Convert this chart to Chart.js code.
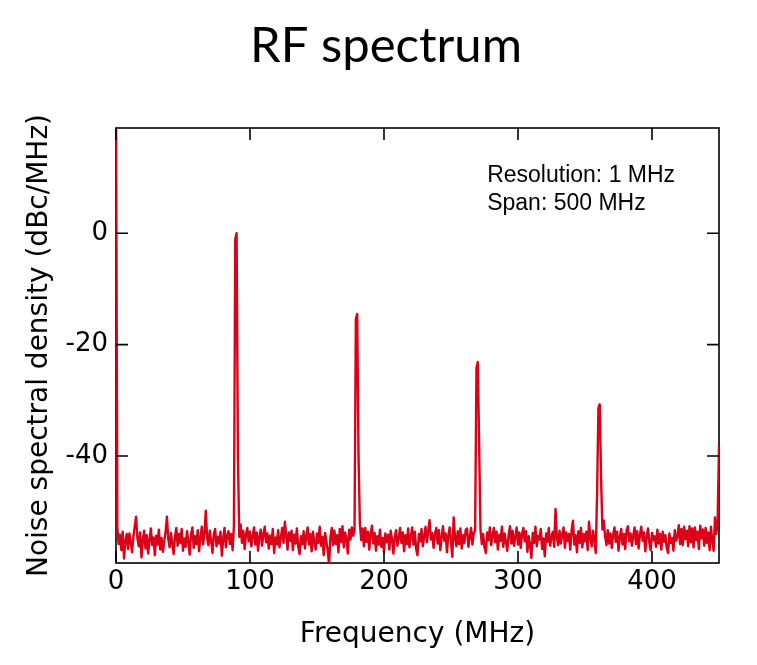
<!DOCTYPE html>
<html>
<head>
<meta charset="utf-8">
<script src="https://cdn.jsdelivr.net/npm/chart.js@4/dist/chart.umd.min.js"></script>
<style>
  html, body { margin: 0; padding: 0; background: #ffffff; }
  #c { display: block; }
</style>
</head>
<body>
<canvas id="c" width="757" height="665"></canvas>
<script>
// ---- data ----
const chartTitle = 'RF spectrum';
const xTitle = 'Frequency (MHz)';
const yTitle = 'Noise spectral density (dBc/MHz)';
const annotationLines = ['Resolution: 1 MHz', 'Span: 500 MHz'];

const freqStart = 0;      // MHz
const freqStep = 1;       // MHz (resolution)
const xTickValues = [0, 100, 200, 300, 400];
const yTickValues = [-40, -20, 0];

const psd = [
  25.0, -53.0, -55.8, -54.1, -56.9, -53.6, -58.4, -55.2, -54.0, -56.7,
  -53.9, -55.5, -57.3, -54.4, -52.6, -50.9, -54.8, -56.2, -53.7, -58.2,
  -55.0, -53.4, -56.6, -54.2, -57.5, -55.1, -53.0, -56.0, -54.6, -57.8,
  -54.3, -55.9, -53.2, -56.8, -54.7, -57.2, -55.3, -53.6, -50.9, -54.9,
  -56.4, -53.8, -55.7, -57.6, -54.5, -52.9, -56.1, -54.0, -55.6, -53.1,
  -57.0, -54.8, -56.3, -53.5, -55.4, -57.7, -54.1, -52.8, -56.5, -54.4,
  -55.8, -53.3, -57.1, -54.6, -52.7, -55.9, -53.9, -49.8, -54.7, -56.0,
  -53.4, -55.2, -57.4, -54.0, -53.1, -56.2, -54.5, -55.7, -53.6, -57.9,
  -54.8, -52.9, -56.4, -54.2, -53.5, -55.8, -54.0, -56.9, -52.6, -1.0,
  0.0, -40.0, -54.5, -52.3, -55.6, -53.4, -56.7, -54.1, -52.9, -55.3,
  -53.6, -56.2, -54.4, -52.8, -55.9, -53.7, -57.0, -54.5, -53.2, -56.1,
  -54.0, -52.7, -55.5, -53.9, -56.6, -54.3, -55.8, -53.1, -57.4, -54.6,
  -55.9, -53.3, -56.4, -54.8, -52.9, -55.6, -51.8, -54.2, -56.8, -53.7,
  -55.2, -53.4, -56.9, -54.1, -55.7, -53.0, -56.3, -57.6, -54.4, -55.8,
  -53.5, -56.6, -54.3, -52.8, -55.9, -54.0, -57.1, -53.6, -55.4, -56.8,
  -53.9, -55.6, -52.7, -56.1, -54.5, -57.8, -53.8, -55.3, -56.9, -59.6,
  -54.7, -52.9, -56.0, -53.4, -55.8, -54.2, -57.3, -53.1, -55.5, -52.6,
  -56.4, -53.7, -54.9, -57.5, -53.2, -55.0, -52.8, -54.3, -53.4, -15.4,
  -14.5, -40.0, -52.2, -55.1, -53.0, -56.2, -52.9, -55.4, -53.6, -56.8,
  -54.0, -52.5, -55.7, -53.8, -57.0, -54.4, -55.9, -53.2, -56.3, -54.7,
  -57.2, -53.9, -55.5, -54.1, -56.8, -53.4, -55.0, -57.5, -54.6, -53.3,
  -56.1, -54.8, -52.9, -55.6, -53.7, -57.1, -54.2, -55.8, -53.0, -56.4,
  -54.5, -52.8, -55.9, -53.6, -56.7, -57.8, -54.0, -55.3, -53.1, -56.2,
  -54.4, -52.7, -55.5, -53.5, -51.5, -55.0, -53.8, -56.5, -54.1, -52.9,
  -55.7, -53.3, -56.9, -54.6, -52.6, -55.2, -53.9, -57.3, -54.3, -52.8,
  -55.4, -58.1, -51.0, -54.7, -56.2, -53.5, -55.8, -53.0, -56.6, -54.2,
  -55.6, -53.2, -53.0, -56.3, -54.5, -52.9, -55.9, -53.8, -53.4, -24.2,
  -23.1, -38.0, -53.2, -55.8, -54.0, -56.4, -57.4, -53.7, -55.1, -52.8,
  -56.0, -54.3, -52.9, -55.5, -53.6, -56.8, -54.1, -55.2, -52.7, -56.3,
  -53.9, -55.4, -57.0, -54.2, -52.6, -55.7, -53.4, -56.1, -54.6, -52.8,
  -55.9, -53.7, -56.5, -54.0, -52.9, -55.3, -53.5, -57.2, -54.4, -56.0,
  -58.3, -53.8, -55.6, -52.7, -56.2, -54.3, -55.0, -53.1, -56.7, -54.8,
  -58.0, -53.9, -55.4, -52.9, -56.1, -54.5, -53.6, -56.3, -49.5, -54.7,
  -56.0, -53.4, -55.7, -54.1, -52.8, -56.5, -53.7, -55.2, -54.0, -56.8,
  -53.3, -51.6, -55.9, -54.2, -57.3, -53.5, -55.6, -52.9, -56.4, -54.0,
  -55.3, -53.6, -56.9, -51.8, -54.7, -56.2, -53.4, -55.1, -57.4, -47.0,
  -31.4, -30.7, -44.0, -53.2, -51.6, -54.4, -56.0, -53.3, -55.7, -53.9,
  -56.5, -54.2, -52.8, -55.4, -53.6, -57.0, -54.5, -53.1, -55.9, -54.0,
  -56.7, -53.4, -52.6, -55.3, -53.9, -56.1, -54.3, -52.8, -55.8, -53.5,
  -56.6, -54.1, -52.7, -55.2, -53.7, -57.1, -54.6, -53.0, -55.5, -56.9,
  -53.8, -55.1, -54.4, -56.3, -53.2, -55.7, -54.0, -56.8, -53.6, -55.4,
  -54.2, -56.5, -57.4, -53.9, -55.6, -54.7, -57.0, -53.3, -55.2, -54.5,
  -52.4, -55.8, -53.1, -56.0, -52.7, -54.9, -53.4, -56.2, -52.6, -55.5,
  -53.0, -56.4, -52.8, -55.1, -53.6, -56.7, -52.5, -54.8, -53.2, -56.1,
  -52.9, -55.6, -53.7, -56.9, -52.7, -55.3, -57.0, -51.0, -54.0, -51.4,
  -38.3
];

const xMin = 0, xMax = 450;
const yMin = -59.2, yMax = 18.9;
const annotationPos = { x: 277, y: 9.2 };   // data coords of first annotation baseline

// ---- build points ----
const points = psd.map((v, i) => ({ x: freqStart + i * freqStep, y: v }));

const FONT = "'DejaVu Sans', sans-serif";

const framePlugin = {
  id: 'frame',
  beforeDatasetsDraw(chart) {
    const { ctx, chartArea: a } = chart;
    ctx.save();
    ctx.strokeStyle = '#000';
    ctx.lineWidth = 1.6;
    ctx.strokeRect(a.left, a.top, a.right - a.left, a.bottom - a.top);
    ctx.restore();
  },
  afterDatasetsDraw(chart) {
    const { ctx, chartArea: a, scales } = chart;
    const L = 12;
    ctx.save();
    ctx.strokeStyle = '#000';
    ctx.lineWidth = 1.6;
    ctx.beginPath();
    scales.x.ticks.forEach(t => {
      const px = scales.x.getPixelForValue(t.value);
      ctx.moveTo(px, a.bottom); ctx.lineTo(px, a.bottom - L);
      ctx.moveTo(px, a.top); ctx.lineTo(px, a.top + L);
    });
    scales.y.ticks.forEach(t => {
      const py = scales.y.getPixelForValue(t.value);
      ctx.moveTo(a.left, py); ctx.lineTo(a.left + L, py);
      ctx.moveTo(a.right, py); ctx.lineTo(a.right - L, py);
    });
    ctx.stroke();
    // annotation text
    ctx.fillStyle = '#000';
    ctx.font = "23px 'Liberation Sans', Arial, sans-serif";
    ctx.textAlign = 'left';
    ctx.textBaseline = 'alphabetic';
    const ax = scales.x.getPixelForValue(annotationPos.x);
    const ay = scales.y.getPixelForValue(annotationPos.y);
    annotationLines.forEach((s, i) => ctx.fillText(s, ax, ay + i * 28));
    ctx.restore();
  }
};

new Chart(document.getElementById('c'), {
  type: 'line',
  data: {
    datasets: [{
      data: points,
      borderColor: '#dc0019',
      borderWidth: 2.4,
      borderJoinStyle: 'round',
      borderCapStyle: 'round',
      pointRadius: 0,
      tension: 0,
      fill: false
    }]
  },
  options: {
    responsive: false,
    animation: false,
    layout: { padding: { left: 15, right: 0, top: 0, bottom: 0 } },
    plugins: {
      legend: { display: false },
      tooltip: { enabled: false },
      title: {
        display: true,
        text: chartTitle,
        color: '#000',
        font: { family: "Lato, 'DejaVu Sans', sans-serif", size: 49, weight: 'normal', lineHeight: 1.2 },
        padding: { top: 17, bottom: 52.2 }
      }
    },
    scales: {
      x: {
        type: 'linear',
        min: xMin, max: xMax,
        grid: { display: false, drawTicks: false },
        border: { display: false },
        ticks: { stepSize: 100, color: '#000', font: { family: FONT, size: 26 }, padding: 4, maxRotation: 0 },
        afterBuildTicks: s => { s.ticks = xTickValues.map(v => ({ value: v })); },
        afterFit: s => { s.height = 102; },
        title: { display: true, text: xTitle, color: '#000', font: { family: FONT, size: 28 }, padding: { top: 0, bottom: 13 } }
      },
      y: {
        type: 'linear',
        position: 'left',
        min: yMin, max: yMax,
        grid: { display: false, drawTicks: false },
        border: { display: false },
        ticks: { stepSize: 20, color: '#000', font: { family: FONT, size: 26 }, padding: 8 },
        afterBuildTicks: s => { s.ticks = yTickValues.map(v => ({ value: v })); },
        afterFit: s => { s.width = 101; },
        title: { display: true, text: yTitle, color: '#000', font: { family: FONT, size: 28 }, padding: { top: 8, bottom: 0 } }
      },
      yRight: {
        type: 'linear',
        position: 'right',
        display: true,
        grid: { display: false, drawTicks: false },
        border: { display: false },
        ticks: { display: false },
        afterFit: s => { s.width = 38; }
      }
    }
  },
  plugins: [framePlugin]
});
</script>
</body>
</html>
